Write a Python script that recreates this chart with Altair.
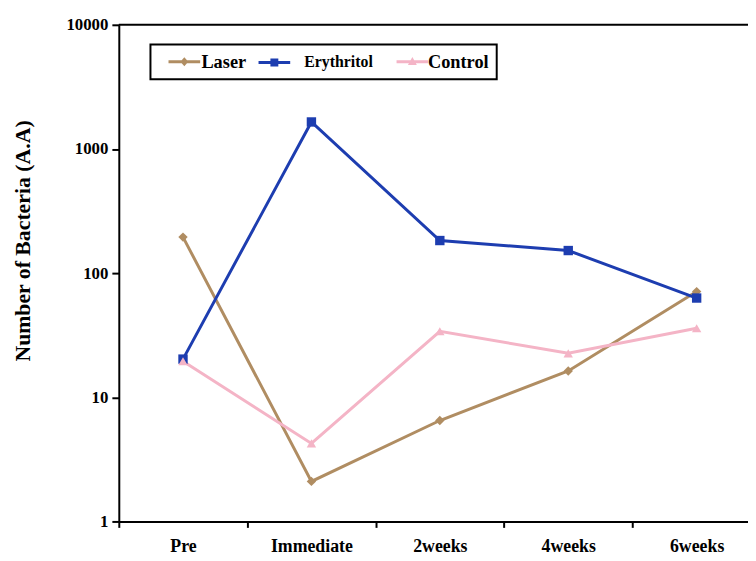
import altair as alt
import pandas as pd

categories = ["Pre", "Immediate", "2weeks", "4weeks", "6weeks"]
series = ["Laser", "Erythritol", "Control"]
laser = [195, 2.1, 6.5, 16.3, 71]
erythritol = [20.3, 1650, 183, 152, 63]
control = [19.5, 4.25, 34, 22.6, 36]
colors = ["#B08D62", "#1D3DB0", "#F4B4C6"]
shapes = ["diamond", "square", "triangle-up"]
y_ticks = [1, 10, 100, 1000, 10000]

rows = []
for name, vals in zip(series, [laser, erythritol, control]):
    for c, v in zip(categories, vals):
        rows.append({"time": c, "series": name, "value": v})
df = pd.DataFrame(rows)

FONT = "Liberation Serif"

x_enc = alt.X(
    "time:N",
    sort=categories,
    scale=alt.Scale(type="band", domain=categories, range=[0, 649], paddingInner=0, paddingOuter=0),
    axis=alt.Axis(
        title=None, labelAngle=0, tickBand="extent", labelFont=FONT, labelFontWeight="bold",
        labelFontSize=18, labelColor="black", domainColor="black", domainWidth=2,
        tickColor="black", tickWidth=2, tickSize=6, labelPadding=10, grid=False,
    ),
)
y_enc = alt.Y(
    "value:Q",
    scale=alt.Scale(type="log", domain=[1, 10000]),
    axis=alt.Axis(
        values=y_ticks, format="d", title="Number of Bacteria (A.A)", titleFont=FONT,
        titleFontWeight="bold", titleFontSize=22, titleColor="black", titleAngle=-90,
        titleX=-97, titleY=218, titleAlign="center", titleBaseline="middle",
        labelFont=FONT, labelFontWeight="bold", labelFontSize=17, labelColor="black",
        domainColor="black", domainWidth=2, tickColor="black", tickWidth=2, tickSize=7,
        labelPadding=4, grid=False,
    ),
)

color_scale = alt.Scale(domain=series, range=colors)

base = alt.Chart(df).encode(x=x_enc, y=y_enc)
lines = base.mark_line(strokeWidth=3).encode(
    color=alt.Color("series:N", scale=color_scale, legend=None)
)
points = base.mark_point(filled=True, opacity=1, size=90).encode(
    color=alt.Color("series:N", scale=color_scale, legend=None),
    shape=alt.Shape("series:N", scale=alt.Scale(domain=series, range=shapes), legend=None),
)

legend_paths = [
    "M0.2,-0.3H6.6V0.3H0.2Z M3.4,-0.9L4.2,0L3.4,0.9L2.6,0Z",
    "M-2.4,-0.3H4.0V0.3H-2.4Z M0,-0.8H1.6V0.8H0Z",
    "M0.5,-0.3H6.9V0.3H0.5Z M3.7,-0.95L4.6,0.65H2.8Z",
]
leg = alt.Legend(
    title=None, orient="none", legendX=32, legendY=20, direction="horizontal",
    symbolSize=100, labelFont=FONT, labelFontWeight="bold",
    labelFontSize=alt.ExprRef("datum.label == 'Erythritol' ? 16 : 18.5"),
    labelColor="black", labelOffset=25,
    columnPadding=12, padding=8,
    strokeColor="black", cornerRadius=0,
)
legend_layer = alt.Chart(df).transform_filter("false").mark_point(filled=True, opacity=1).encode(
    color=alt.Color("series:N", scale=alt.Scale(domain=series, range=colors), legend=leg),
    shape=alt.Shape("series:N", scale=alt.Scale(domain=series, range=legend_paths), legend=leg),
)

frame_top = alt.Chart(pd.DataFrame({"k": [0]})).mark_rule(color="black", strokeWidth=2).encode(
    x=alt.value(0), x2=alt.value(636), y=alt.value(0)
)

chart = alt.layer(frame_top, lines, points, legend_layer).resolve_scale(
    color="independent", shape="independent"
).properties(
    width=636, height=502,
    autosize=alt.AutoSizeParams(type="none"),
    padding={"left": 112, "top": 14, "right": 0, "bottom": 37},
).configure_view(stroke=None).configure_legend(strokeWidth=2)

chart.save("out.html", embed_options={"renderer": "svg", "actions": False})
